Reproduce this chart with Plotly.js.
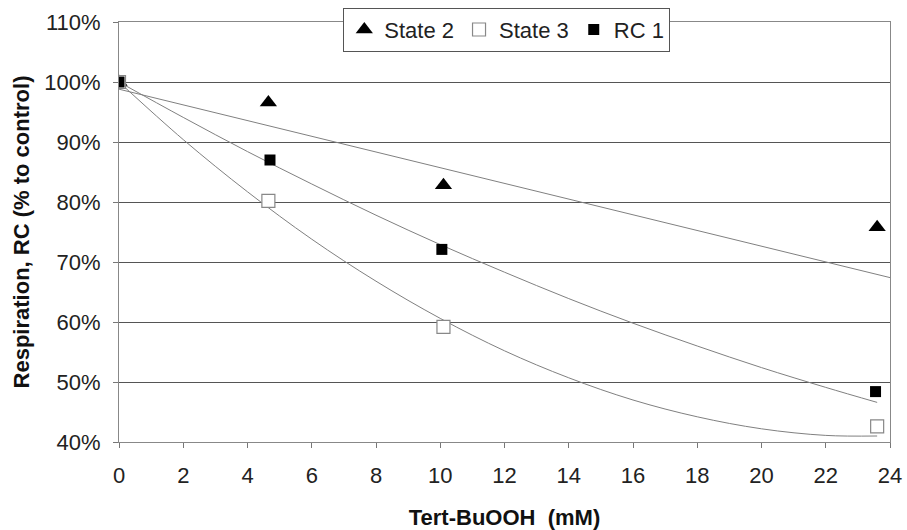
<!DOCTYPE html>
<html>
<head>
<meta charset="utf-8">
<script src="https://cdn.plot.ly/plotly-3.0.1.min.js"></script>
<style>html,body{margin:0;padding:0;background:#fff;}#chart{width:907px;height:530px;}</style>
</head>
<body>
<div id="chart"></div>
<script>
// measured points
const state2X = [0, 4.65, 10.1, 23.6];
const state2Y = [100, 96.6, 82.8, 75.8];
const state3X = [0, 4.65, 10.1, 23.6];
const state3Y = [100, 80.2, 59.2, 42.6];
const rc1X = [0, 4.7, 10.05, 23.55];
const rc1Y = [100, 87.0, 72.1, 48.4];

// trendlines
const trend2X = [0, 24];
const trend2Y = [98.8, 67.4];
const trend3X = [0, 2, 4, 6, 8, 10, 12, 14, 16, 18, 20, 22, 23.6];
const trend3Y = [100, 90.4, 81.7, 73.8, 66.8, 60.6, 55.2, 50.7, 47.0, 44.2, 42.2, 41.1, 41.0];
const trendRcX = [0, 2, 4, 6, 8, 10, 12, 14, 16, 18, 20, 22, 23.6];
const trendRcY = [100, 94.1, 88.4, 83.0, 77.8, 72.9, 68.3, 63.9, 59.8, 56.0, 52.4, 49.1, 46.6];

const xTicks = [0, 2, 4, 6, 8, 10, 12, 14, 16, 18, 20, 22, 24];
const yTicks = [40, 50, 60, 70, 80, 90, 100, 110];
const yTickLabels = ['40%', '50%', '60%', '70%', '80%', '90%', '100%', '110%'];

const FONT = 'Liberation Sans, Arial, sans-serif';

const traces = [
  {x: trend2X, y: trend2Y, mode: 'lines', line: {color: '#808080', width: 1}, showlegend: false, hoverinfo: 'skip'},
  {x: trend3X, y: trend3Y, mode: 'lines', line: {color: '#808080', width: 1, shape: 'spline'}, showlegend: false, hoverinfo: 'skip'},
  {x: trendRcX, y: trendRcY, mode: 'lines', line: {color: '#808080', width: 1, shape: 'spline'}, showlegend: false, hoverinfo: 'skip'},
  {x: state2X, y: state2Y, mode: 'markers', name: 'State 2',
   marker: {symbol: 'triangle-up', size: 15, color: '#000'}},
  {x: state3X, y: state3Y, mode: 'markers', name: 'State 3',
   marker: {symbol: 'square', size: 13, color: '#fff', line: {color: '#888', width: 1.2}}},
  {x: rc1X, y: rc1Y, mode: 'markers', name: 'RC 1',
   marker: {symbol: 'square', size: 11, color: '#000'}}
];

const layout = {
  width: 907, height: 530,
  margin: {l: 119, r: 17, t: 22, b: 88, autoexpand: false},
  paper_bgcolor: '#fff', plot_bgcolor: '#fff',
  font: {family: FONT, size: 21, color: '#222'},
  showlegend: true,
  legend: {
    orientation: 'h', x: 0.503, xanchor: 'center', y: 1.034, yanchor: 'top',
    bgcolor: '#fff', bordercolor: '#555', borderwidth: 1,
    font: {family: FONT, size: 22, color: '#222'},
    itemwidth: 30, traceorder: 'normal'
  },
  xaxis: {
    range: [0, 24], tickvals: xTicks, ticks: 'outside', ticklen: 5, tickcolor: '#777',
    showgrid: false, zeroline: false, showline: true, linecolor: '#888', linewidth: 1,
    mirror: true, ticklabelstandoff: 9,
    tickfont: {family: FONT, size: 22, color: '#222'},
    title: {text: 'Tert-BuOOH  (mM)', font: {family: FONT, size: 22, color: '#111', weight: 'bold'}, standoff: 22}
  },
  yaxis: {
    range: [40, 110], tickvals: yTicks, ticktext: yTickLabels, ticks: 'outside', ticklen: 5, tickcolor: '#777',
    showgrid: true, gridcolor: '#555', gridwidth: 1, zeroline: false,
    showline: true, linecolor: '#888', linewidth: 1, mirror: true, ticklabelstandoff: 8,
    tickfont: {family: FONT, size: 22, color: '#222'},
    title: {text: 'Respiration, RC (% to control)', font: {family: FONT, size: 22, color: '#111', weight: 'bold'}, standoff: 8}
  }
};

Plotly.newPlot('chart', traces, layout, {displayModeBar: false, staticPlot: true});
</script>
</body>
</html>
